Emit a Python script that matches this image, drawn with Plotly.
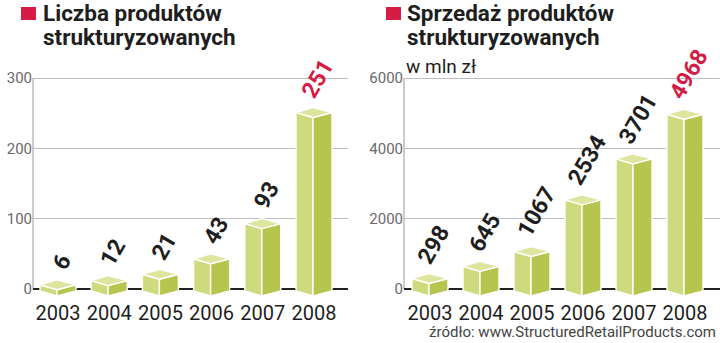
import plotly.graph_objects as go

# --- data -------------------------------------------------------------
years = ["2003", "2004", "2005", "2006", "2007", "2008"]
count_values = [6, 12, 21, 43, 93, 251]          # liczba produktów
sales_values = [298, 645, 1067, 2534, 3701, 4968]  # sprzedaż, mln zł
count_ticks = [0, 100, 200, 300]
sales_ticks = [0, 2000, 4000, 6000]

W, H = 720, 343
FONT = "Roboto"
TOP_C, LEFT_C, RIGHT_C = "#dde59e", "#cdda7e", "#b6c54e"
RED = "#d41c45"
DARK = "#1e1e1e"

# pixel layout of the two panels
panels = [
    dict(values=count_values, ticks=count_ticks, x0=33, x1=348, c0=58, step=51.2,
         ymax_val=300, xa="x", ya="y"),
    dict(values=sales_values, ticks=sales_ticks, x0=404, x1=720, c0=430, step=51.0,
         ymax_val=6000, xa="x2", ya="y2"),
]
ZERO_PX, TOPGRID_PX = 289, 78
DOM_TOP_PX, DOM_BOT_PX = 68, 299

fig = go.Figure()
layout_axes = {}
annotations = []
shapes = []

for i, p in enumerate(panels):
    ux = 1.0 / p["step"]                                  # x units per pixel
    uy = p["ymax_val"] / (ZERO_PX - TOPGRID_PX)           # y units per pixel
    xr = [(p["x0"] - p["c0"]) * ux, (p["x1"] - p["c0"]) * ux]
    yr = [-(DOM_BOT_PX - ZERO_PX) * uy, (ZERO_PX - DOM_TOP_PX) * uy]

    lx, ly, rx, ry, tx, ty = [], [], [], [], [], []
    for k, v in enumerate(p["values"]):
        cx = k
        xl, xf, xrr = cx - 18 * ux, cx - 1 * ux, cx + 18 * ux
        top_s, top_f, top_b = v, v - 5 * uy, v + 5 * uy
        bot_s, bot_f = -2 * uy, -7 * uy
        lx += [xl, xl, xf, xf, xl, None]
        ly += [bot_s, top_s, top_f, bot_f, bot_s, None]
        rx += [xf, xf, xrr, xrr, xf, None]
        ry += [bot_f, top_f, top_s, bot_s, bot_f, None]
        tx += [xl, xf, xrr, xf, xl, None]
        ty += [top_s, top_b, top_s, top_f, top_s, None]

        annotations.append(dict(
            x=cx + 4 * ux, y=top_b, xref=p["xa"], yref=p["ya"],
            text=f"{v}", showarrow=False, textangle=-60,
            xanchor="center", yanchor="bottom", yshift=2,
            font=dict(family=FONT, size=23, color=RED if k == len(years) - 1 else DARK,
                      weight="bold"),
        ))

    for xs, ys, col in [(lx, ly, LEFT_C), (rx, ry, RIGHT_C), (tx, ty, TOP_C)]:
        fig.add_trace(go.Scatter(
            x=xs, y=ys, xaxis=p["xa"], yaxis=p["ya"], mode="lines",
            fill="toself", fillcolor=col, line=dict(color="white", width=1.4),
            hoverinfo="skip", showlegend=False,
        ))

    # vertical axis line from 0 to the top gridline
    shapes.append(dict(type="line", xref=f"{p['xa']} domain", yref=p["ya"],
                       x0=0, x1=0, y0=0, y1=p["ymax_val"],
                       line=dict(color="#9a9a9a", width=1), layer="below"))

    suffix = "" if i == 0 else "2"
    layout_axes["xaxis" + suffix] = dict(
        domain=[p["x0"] / W, p["x1"] / W], range=xr,
        tickvals=list(range(len(years))), ticktext=years,
        showgrid=False, zeroline=False, showline=False, ticks="",
        tickfont=dict(family=FONT, size=20, color=DARK),
        anchor=p["ya"], fixedrange=True,
    )
    layout_axes["yaxis" + suffix] = dict(
        domain=[(H - DOM_BOT_PX) / H, (H - DOM_TOP_PX) / H], range=yr,
        tickvals=p["ticks"], ticktext=[str(t) for t in p["ticks"]],
        showgrid=True, gridcolor="#bdbdbd", gridwidth=1,
        zeroline=True, zerolinecolor="#222222", zerolinewidth=2,
        showline=False, ticks="",
        tickfont=dict(family=FONT, size=15, color="#6a6a6a"),
        anchor=p["xa"], fixedrange=True,
    )


def paper_text(text, x_px, y_px, font, xanchor="left", yanchor="middle"):
    return dict(x=x_px / W, y=1 - y_px / H, xref="paper", yref="paper",
                xanchor=xanchor, yanchor=yanchor, showarrow=False, font=font, text=text)


# titles, one annotation per line for tight line spacing
title_font = dict(family=FONT, size=22.5, color=DARK, weight="bold")
annotations += [
    paper_text("Liczba produktów", 41, 13, title_font),
    paper_text("strukturyzowanych", 41, 37, title_font),
    paper_text("Sprzedaż produktów", 405, 13, title_font),
    paper_text("strukturyzowanych", 405, 37, title_font),
    paper_text("w mln zł", 404, 66, dict(family=FONT, size=19, color=DARK)),
    dict(x=718 / W, y=0, xref="paper", yref="paper", xanchor="right",
         yanchor="bottom", showarrow=False, font=dict(family=FONT, size=15, color="#444444"),
         text="źródło: www.StructuredRetailProducts.com"),
]
for x0 in (21, 386):
    shapes.append(dict(type="rect", xref="paper", yref="paper",
                       x0=x0 / W, x1=(x0 + 15) / W, y0=1 - 20 / H, y1=1 - 7 / H,
                       fillcolor=RED, line=dict(width=0)))

fig.update_layout(
    width=W, height=H, margin=dict(l=0, r=0, t=0, b=0),
    paper_bgcolor="white", plot_bgcolor="white",
    showlegend=False, annotations=annotations, shapes=shapes,
    **layout_axes,
)

fig.write_html("out.html", config={"displayModeBar": False})
